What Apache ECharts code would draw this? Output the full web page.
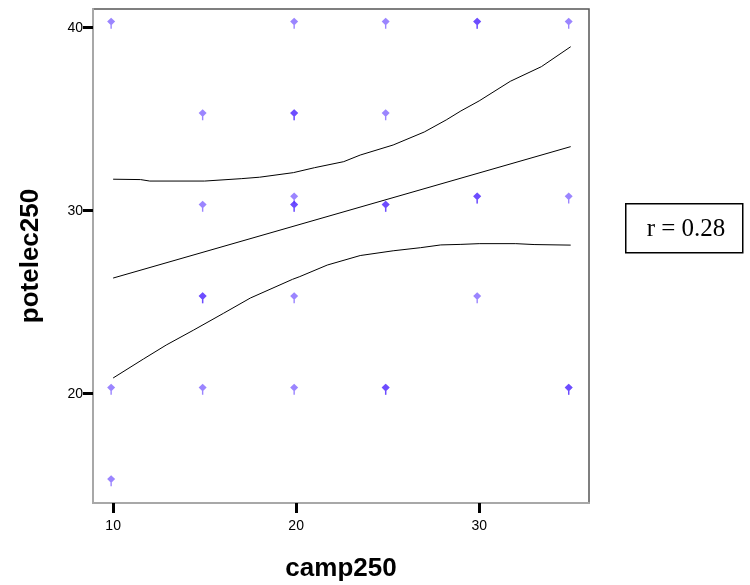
<!DOCTYPE html>
<html>
<head>
<meta charset="utf-8">
<script src="https://cdn.jsdelivr.net/npm/echarts@6/dist/echarts.min.js"></script>
<style>
html,body{margin:0;padding:0;background:#fff;}
#chart{width:750px;height:585px;}
</style>
</head>
<body>
<div id="chart"></div>
<script>
// ---- data ----
const xTicks = [10, 20, 30];
const yTicks = [20, 30, 40];

// scatter points (duplicates = overlapping, darker markers)
const camp250 = [10, 20, 25, 30, 30, 35,
                 15, 20, 20, 25,
                 20, 30, 30, 35,
                 15, 20, 20, 25, 25,
                 15, 15, 20, 30,
                 10, 15, 20, 25, 25, 35, 35,
                 10];
const potelec250 = [40, 40, 40, 40, 40, 40,
                    35, 35, 35, 35,
                    30.45, 30.45, 30.45, 30.45,
                    30, 30, 30, 30, 30,
                    25, 25, 25, 25,
                    20, 20, 20, 20, 20, 20, 20,
                    15];

// fitted regression line
const fitX = [10, 35];
const fitY = [26.32, 33.50];

// upper confidence band
const upperX = [10, 11.5, 12, 15, 17, 18, 19.85, 21, 22.6, 23.5, 25.3, 27, 28.2, 29, 30, 31.7, 33.4, 35];
const upperY = [31.72, 31.70, 31.62, 31.62, 31.75, 31.83, 32.08, 32.35, 32.68, 33.04, 33.59, 34.3, 34.96, 35.45, 36.0, 37.07, 37.87, 38.96];

// lower confidence band
const lowerX = [10, 11.66, 12.9, 14.4, 16.04, 17.5, 19.8, 20.2, 21.7, 23.5, 25.3, 26.8, 27.9, 29, 30, 32, 33, 35];
const lowerY = [20.86, 21.9, 22.66, 23.48, 24.4, 25.23, 26.25, 26.4, 27.03, 27.55, 27.81, 27.98, 28.13, 28.16, 28.2, 28.2, 28.15, 28.12];

const rLabel = 'r = 0.28';

// ---- build ----
const zip = (xs, ys) => xs.map((x, i) => [x, ys[i]]);

const markerPath = 'path://M0,-3.8 L4,0 L0,3.8 L-4,0 Z M-0.7,3 L0.7,3 L0.7,7 L-0.7,7 Z';
const sansFont = 'Liberation Sans, Arial, sans-serif';

const chart = echarts.init(document.getElementById('chart'), null, {renderer: 'canvas'});
chart.setOption({
  animation: false,
  backgroundColor: '#ffffff',
  grid: {
    left: 93, top: 9, width: 496, height: 494,
    outerBoundsMode: 'none', containLabel: false,
    show: true, borderColor: '#555555', borderWidth: 1.5, backgroundColor: 'transparent'
  },
  xAxis: {
    type: 'value', min: 8.9, max: 36.0,
    splitLine: {show: false},
    axisLine: {show: true, onZero: false, lineStyle: {color: '#a8a8a8', width: 2}},
    axisTick: {show: true, customValues: xTicks, length: 10, lineStyle: {color: '#000', width: 3}},
    axisLabel: {customValues: xTicks, margin: 16, color: '#000', fontSize: 14, fontFamily: sansFont},
    name: 'camp250', nameLocation: 'middle', nameGap: 53,
    nameTextStyle: {color: '#000', fontSize: 26, fontWeight: 'bold', fontFamily: sansFont}
  },
  yAxis: {
    type: 'value', min: 14.03, max: 41.02,
    splitLine: {show: false},
    axisLine: {show: true, onZero: false, lineStyle: {color: '#a8a8a8', width: 2}},
    axisTick: {show: true, customValues: yTicks, length: 10, lineStyle: {color: '#000', width: 3}},
    axisLabel: {customValues: yTicks, margin: 10, color: '#000', fontSize: 14, fontFamily: sansFont},
    name: 'potelec250', nameLocation: 'middle', nameGap: 49,
    nameTextStyle: {color: '#000', fontSize: 26, fontWeight: 'bold', fontFamily: sansFont}
  },
  series: [
    {
      type: 'scatter',
      data: zip(camp250, potelec250),
      symbol: markerPath,
      symbolSize: [8, 11],
      symbolOffset: [-2, -4.5],
      itemStyle: {color: 'rgba(70,30,255,0.68)'},
      z: 2
    },
    {
      type: 'line', data: zip(fitX, fitY), showSymbol: false, symbol: 'none',
      lineStyle: {color: '#000', width: 1}, z: 3
    },
    {
      type: 'line', data: zip(upperX, upperY), showSymbol: false, symbol: 'none',
      lineStyle: {color: '#000', width: 1}, z: 3
    },
    {
      type: 'line', data: zip(lowerX, lowerY), showSymbol: false, symbol: 'none',
      lineStyle: {color: '#000', width: 1}, z: 3
    }
  ],
  graphic: [
    {
      type: 'rect', left: 625, top: 203,
      shape: {width: 117, height: 49},
      style: {fill: '#fff', stroke: '#000', lineWidth: 1.5}
    },
    {
      type: 'text', x: 686, y: 229,
      style: {text: rLabel, fill: '#000', font: '25px "Liberation Serif", "Times New Roman", serif', align: 'center', verticalAlign: 'middle'}
    }
  ]
});
</script>
</body>
</html>
